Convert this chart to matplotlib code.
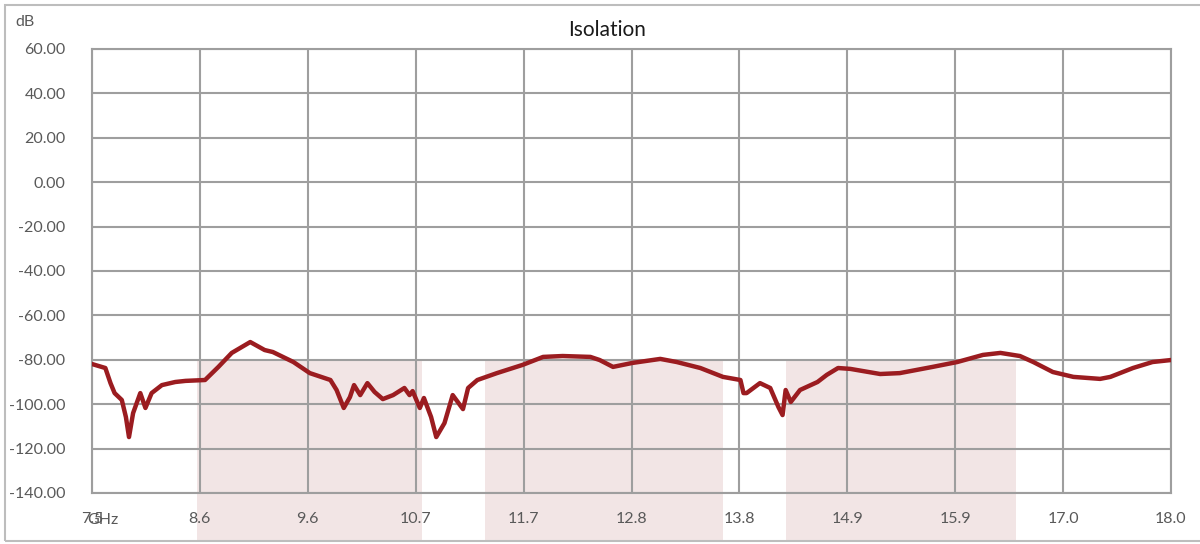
import matplotlib
matplotlib.use('Agg')
import matplotlib.pyplot as plt
from matplotlib.patches import Rectangle

plt.rcParams['font.family'] = ['Lato', 'DejaVu Sans']

# frequency (GHz) and isolation (dB)
freq = [7.50, 7.63, 7.68, 7.72, 7.79, 7.83, 7.86, 7.90, 7.97, 8.02,
        8.08, 8.18, 8.31, 8.41, 8.60, 8.73, 8.86, 9.04, 9.18, 9.26,
        9.46, 9.62, 9.82, 9.88, 9.95, 10.01, 10.05, 10.11, 10.18, 10.25,
        10.33, 10.43, 10.54, 10.59, 10.62, 10.69, 10.73, 10.80, 10.85, 10.93,
        11.01, 11.11, 11.16, 11.25, 11.44, 11.69, 11.89, 12.08, 12.35, 12.44,
        12.57, 12.76, 13.03, 13.19, 13.42, 13.64, 13.81, 13.84, 13.87, 14.00,
        14.10, 14.18, 14.22, 14.25, 14.30, 14.39, 14.56, 14.65, 14.76, 14.88,
        15.17, 15.36, 15.68, 15.92, 16.17, 16.34, 16.53, 16.66, 16.85, 17.05,
        17.31, 17.41, 17.63, 17.82, 18.00]
isolation = [-81.9, -83.7, -90.5, -95.0, -98.1, -105.8, -114.8, -104.0, -95.0, -101.7,
             -95.0, -91.4, -90.0, -89.5, -89.1, -83.2, -76.9, -72.0, -75.6, -76.5,
             -81.0, -86.0, -89.1, -93.6, -101.7, -96.8, -91.4, -95.9, -90.5, -94.5,
             -97.7, -95.9, -92.7, -95.9, -94.1, -101.7, -97.2, -105.8, -114.8, -108.5,
             -95.9, -102.2, -92.7, -89.1, -86.0, -82.3, -78.7, -78.3, -78.7, -80.1,
             -83.2, -81.4, -79.6, -81.0, -83.7, -87.7, -89.1, -95.0, -95.0, -90.5,
             -92.7, -101.3, -104.9, -93.6, -99.0, -93.6, -90.0, -86.8, -83.7, -84.1,
             -86.4, -86.0, -83.2, -81.0, -77.8, -76.9, -78.3, -81.0, -85.5, -87.7,
             -88.6, -87.7, -83.7, -81.0, -80.1]

# shaded bands (GHz)
band_start = [8.52, 11.32, 14.25]
band_end = [10.71, 13.64, 16.49]
band_top = -80.5
band_bottom = -162.0

x_ticks = [7.5 + 1.05 * i for i in range(11)]
x_labels = ['7.5', '8.6', '9.6', '10.7', '11.7', '12.8', '13.8', '14.9', '15.9', '17.0', '18.0']
y_ticks = list(range(-140, 61, 20))

fig = plt.figure(figsize=(12, 5.44), dpi=100)
ax = fig.add_axes([92 / 1200, 1 - 493 / 544, (1171 - 92) / 1200, (493 - 49) / 544])

for s, e in zip(band_start, band_end):
    ax.bar((s + e) / 2, band_top - band_bottom, width=e - s, bottom=band_bottom,
           color='#f2e5e5', edgecolor='none', clip_on=False, zorder=1)

ax.plot(freq, isolation, color='#9b1c20', linewidth=3.2,
        solid_joinstyle='round', solid_capstyle='round', zorder=3)

ax.set_xlim(7.5, 18.0)
ax.set_ylim(-140, 60)
ax.set_xticks(x_ticks)
ax.set_xticklabels(x_labels)
ax.set_yticks(y_ticks)
ax.set_yticklabels([f'{v:.2f}' for v in y_ticks])
ax.grid(True, color='#9e9e9e', linewidth=1.5, zorder=2)
ax.tick_params(length=0, labelsize=11.5, labelcolor='#595959')
ax.tick_params(axis='y', pad=19)
ax.tick_params(axis='x', pad=14)
for sp in ax.spines.values():
    sp.set_color('#9e9e9e')
    sp.set_linewidth(1.5)

fig.text(607 / 1200, 1 - 30 / 544, 'Isolation', ha='center', va='center',
         fontsize=15, color='#1a1a1a')
fig.text(15 / 1200, 1 - 22 / 544, 'dB', ha='left', va='center',
         fontsize=11.5, color='#595959')
fig.text(103 / 1200, 1 - 520 / 544, 'GHz', ha='center', va='center',
         fontsize=11.5, color='#595959')

fig.patches.append(Rectangle((5 / 1200, 1 - 541 / 544), 1.0, (541 - 5) / 544,
                             transform=fig.transFigure, fill=False,
                             edgecolor='#bdbdbd', linewidth=1.5))

fig.savefig('out.png', dpi=100)
